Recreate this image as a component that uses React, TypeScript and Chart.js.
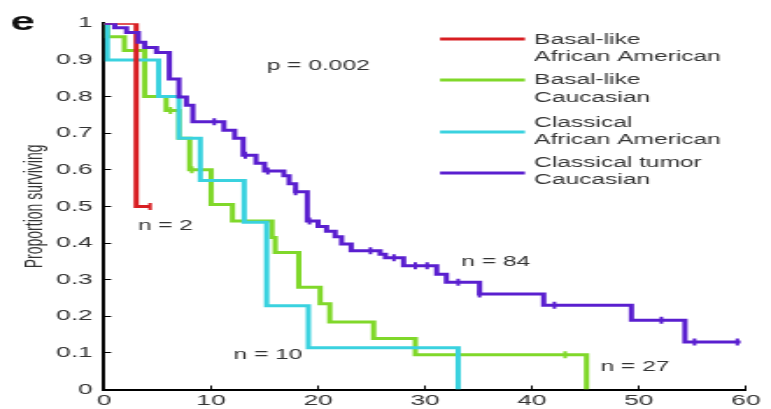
import React, { useEffect, useRef } from 'react';
import { Chart, registerables } from 'chart.js';

Chart.register(...registerables);

// ---------------- data ----------------
const SERIES_NAMES = [
  'Basal-like African American',
  'Basal-like Caucasian',
  'Classical African American',
  'Classical tumor Caucasian',
];
const LEGEND_LINES = [
  ['Basal-like', 'African American'],
  ['Basal-like', 'Caucasian'],
  ['Classical', 'African American'],
  ['Classical tumor', 'Caucasian'],
];
const SERIES_COLORS = ['#d81e22', '#80d82a', '#3ad2df', '#5a1fcf'];

const RED_TIMES = [0, 3, 4.3];
const RED_SURV = [1, 0.5, 0.5];
const RED_CENSORED = [4.3];

const GREEN_TIMES = [0, 0.3, 1.9, 3.8, 5.8, 7.0, 8.0, 10.0, 12.0, 15.7, 16.0, 18.2, 20.2, 21.1, 25.2, 29.1, 45.1];
const GREEN_SURV = [1, 0.963, 0.926, 0.8, 0.762, 0.686, 0.6, 0.505, 0.46, 0.415, 0.374, 0.279, 0.234, 0.184, 0.139, 0.095, 0];
const GREEN_CENSORED = [6.2, 8.2, 43.1];

const CYAN_TIMES = [0, 0.3, 5.1, 7.0, 9.0, 13.1, 15.2, 19.1, 33.1];
const CYAN_SURV = [1, 0.9, 0.8, 0.686, 0.571, 0.457, 0.229, 0.114, 0];
const CYAN_CENSORED: number[] = [];

const PURPLE_TIMES = [0, 1.0, 2.1, 3.2, 3.8, 4.9, 6.1, 7.0, 7.7, 8.3, 11.2, 12.2, 13.0, 14.2, 15.0, 16.8, 17.3, 17.9, 19.0, 20.0, 20.8, 21.6, 22.2, 23.1, 25.8, 26.3, 28.0, 31.1, 32.0, 35.1, 41.1, 49.3, 54.3, 59.5];
const PURPLE_SURV = [1, 0.988, 0.975, 0.948, 0.934, 0.92, 0.848, 0.799, 0.776, 0.731, 0.708, 0.686, 0.64, 0.618, 0.597, 0.584, 0.562, 0.54, 0.46, 0.445, 0.432, 0.417, 0.397, 0.379, 0.369, 0.36, 0.338, 0.315, 0.293, 0.261, 0.23, 0.189, 0.13, 0.13];
const PURPLE_CENSORED = [10.3, 13.2, 15.3, 17.9, 19.2, 24.9, 27.1, 29.1, 30.2, 33.1, 35.1, 42.1, 52.1, 55.2, 59.2];

const X_MIN = 0;
const X_MAX = 60;
const X_STEP = 10;
const Y_MIN = 0;
const Y_MAX = 1;
const Y_STEP = 0.1;

const Y_TITLE = 'Proportion surviving';
const PANEL_LABEL = 'e';
const P_TEXT = 'p = 0.002';
const N_TEXTS = ['n = 2', 'n = 27', 'n = 10', 'n = 84'];

// ---------------- helpers ----------------
const FONT = '"Liberation Sans", Arial, Helvetica, sans-serif';
const TEXT_COLOR = '#333333';
const STRETCH_W = 440; // internal canvas width, stretched to 771 css px

function toPoints(times: number[], surv: number[]) {
  return times.map((t, i) => ({ x: t, y: surv[i] }));
}
function survAt(times: number[], surv: number[], t: number) {
  let v = surv[0];
  for (let i = 0; i < times.length; i++) {
    if (times[i] <= t) v = surv[i];
  }
  return v;
}
function censorPoints(times: number[], surv: number[], cens: number[]) {
  return cens.map((c) => ({ x: c, y: survAt(times, surv, c) }));
}

const SERIES = [
  { times: RED_TIMES, surv: RED_SURV, cens: RED_CENSORED },
  { times: GREEN_TIMES, surv: GREEN_SURV, cens: GREEN_CENSORED },
  { times: CYAN_TIMES, surv: CYAN_SURV, cens: CYAN_CENSORED },
  { times: PURPLE_TIMES, surv: PURPLE_SURV, cens: PURPLE_CENSORED },
];
// drawing order (lower = on top)
const ORDER = [2, 4, 3, 1];

const overlayPlugin = {
  id: 'overlayText',
  afterDraw(chart: any) {
    const ctx = chart.ctx as CanvasRenderingContext2D;
    const xs = chart.scales.x;
    const ys = chart.scales.y;
    ctx.save();

    // panel label
    ctx.fillStyle = '#111';
    ctx.font = `bold 25px ${FONT}`;
    ctx.textAlign = 'left';
    ctx.textBaseline = 'alphabetic';
    ctx.fillText(PANEL_LABEL, 6, 30);

    // legend
    const lx1 = 251.1;
    const lx2 = 299.6;
    const tx = 304.8;
    const rows = [
      { line: 39, text: [40, 57] },
      { line: 80, text: [80, 98] },
      { line: 132, text: [123, 140] },
      { line: 173, text: [163, 180] },
    ];
    rows.forEach((r, i) => {
      ctx.strokeStyle = SERIES_COLORS[i];
      ctx.lineWidth = 3;
      ctx.beginPath();
      ctx.moveTo(lx1, r.line);
      ctx.lineTo(lx2, r.line);
      ctx.stroke();
      ctx.fillStyle = TEXT_COLOR;
      ctx.font = `14px ${FONT}`;
      ctx.textAlign = 'left';
      ctx.textBaseline = 'middle';
      LEGEND_LINES[i].forEach((s, j) => ctx.fillText(s, tx, r.text[j]));
    });

    // annotations (data coordinates)
    const notes = [
      { text: P_TEXT, x: 15.2, y: 0.883 },
      { text: N_TEXTS[0], x: 3.15, y: 0.447 },
      { text: N_TEXTS[1], x: 46.4, y: 0.062 },
      { text: N_TEXTS[2], x: 12.1, y: 0.095 },
      { text: N_TEXTS[3], x: 33.4, y: 0.347 },
    ];
    ctx.fillStyle = TEXT_COLOR;
    ctx.font = `14px ${FONT}`;
    ctx.textAlign = 'left';
    ctx.textBaseline = 'middle';
    notes.forEach((n) => {
      ctx.fillText(n.text, xs.getPixelForValue(n.x), ys.getPixelForValue(n.y));
    });
    ctx.restore();
  },
};

export default function App() {
  const ref = useRef<HTMLCanvasElement | null>(null);

  useEffect(() => {
    document.body.style.margin = '0';
    document.body.style.overflow = 'hidden';
    const canvas = ref.current;
    if (!canvas) return;

    const lineSets = SERIES.map((s, i) => ({
      label: SERIES_NAMES[i],
      data: toPoints(s.times, s.surv),
      borderColor: SERIES_COLORS[i],
      backgroundColor: SERIES_COLORS[i],
      borderWidth: 3,
      stepped: true,
      pointRadius: 0,
      fill: false,
      order: ORDER[i] + 4,
    }));
    const censorSets = SERIES.map((s, i) => ({
      label: SERIES_NAMES[i] + ' censored',
      data: censorPoints(s.times, s.surv, s.cens),
      borderColor: SERIES_COLORS[i],
      backgroundColor: SERIES_COLORS[i],
      showLine: false,
      pointStyle: 'line',
      rotation: 90,
      pointRadius: 3.5,
      pointBorderWidth: 2,
      order: ORDER[i],
    }));

    const chart = new Chart(canvas, {
      type: 'line',
      data: { datasets: [...lineSets, ...censorSets] as any },
      options: {
        animation: false,
        responsive: false,
        maintainAspectRatio: false,
        devicePixelRatio: 1,
        parsing: false as any,
        layout: { padding: { top: 23.3, right: 10.8, bottom: 0, left: 0 } },
        plugins: {
          legend: { display: false },
          tooltip: { enabled: false },
        },
        scales: {
          x: {
            type: 'linear',
            min: X_MIN,
            max: X_MAX,
            ticks: {
              stepSize: X_STEP,
              color: TEXT_COLOR,
              font: { family: FONT, size: 15 },
              padding: 6,
              maxRotation: 0,
            },
            grid: { drawOnChartArea: false, tickLength: -4, color: '#000', lineWidth: 1 },
            border: { color: '#000', width: 2 },
            afterFit: (s: any) => {
              s.height = 16.3;
            },
          },
          y: {
            type: 'linear',
            min: Y_MIN,
            max: Y_MAX,
            ticks: {
              stepSize: Y_STEP,
              color: TEXT_COLOR,
              font: { family: FONT, size: 15 },
              padding: 10.5,
              callback: (v: any) => String(Math.round(Number(v) * 10) / 10),
            },
            grid: { drawOnChartArea: false, tickLength: -4, color: '#000', lineWidth: 1 },
            border: { color: '#000', width: 2 },
            title: {
              display: true,
              text: Y_TITLE,
              color: TEXT_COLOR,
              font: { family: FONT, size: 14 },
              padding: { top: 11.6, bottom: 0 },
            },
            afterFit: (s: any) => {
              s.width = 59.4;
            },
          },
        },
      },
      plugins: [overlayPlugin],
    } as any);

    return () => {
      chart.destroy();
    };
  }, []);

  return (
    <div style={{ width: '771px', height: '409px', overflow: 'hidden', background: '#fff' }}>
      <canvas
        ref={ref}
        width={STRETCH_W}
        height={409}
        style={{ width: '771px', height: '409px', display: 'block' }}
      />
    </div>
  );
}
